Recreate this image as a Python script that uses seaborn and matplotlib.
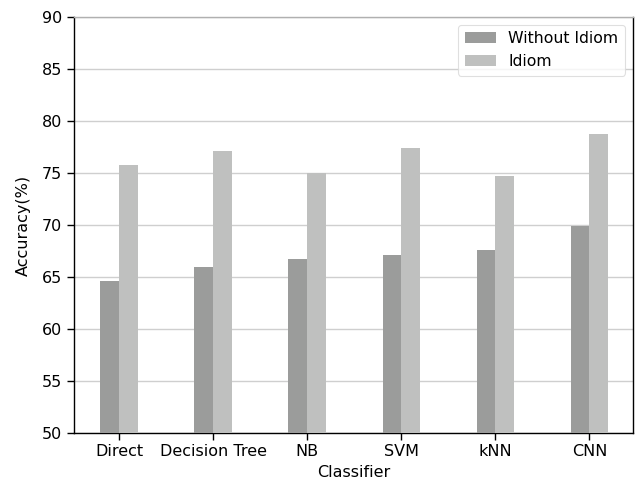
import matplotlib
matplotlib.use("Agg")
import matplotlib.pyplot as plt
import seaborn as sns
import pandas as pd

classifiers = ["Direct", "Decision Tree", "NB", "SVM", "kNN", "CNN"]
without_idiom = [64.6, 66.0, 66.7, 67.1, 67.6, 69.9]
idiom = [75.8, 77.1, 75.0, 77.4, 74.7, 78.8]
series_names = ["Without Idiom", "Idiom"]
y_ticks = [50, 55, 60, 65, 70, 75, 80, 85, 90]

df = pd.DataFrame({
    "Classifier": classifiers * 2,
    "Accuracy": without_idiom + idiom,
    "Series": [series_names[0]] * len(classifiers) + [series_names[1]] * len(classifiers),
})

sns.set_style("white")
plt.rcParams["font.family"] = ["DejaVu Sans"]
plt.rcParams["text.color"] = "black"
plt.rcParams["axes.labelcolor"] = "black"
plt.rcParams["xtick.color"] = "black"
plt.rcParams["ytick.color"] = "black"

fig = plt.figure(figsize=(6.4, 4.82), dpi=100)
ax = fig.add_axes([0.1156, 0.1023, 0.9886 - 0.1156, 0.9641 - 0.1023])

sns.barplot(data=df, x="Classifier", y="Accuracy", hue="Series",
            palette=["#9b9c9b", "#bfc0bf"], width=0.4, gap=0,
            edgecolor="none", linewidth=0, ax=ax, zorder=3)

ax.set_ylim(50, 90)
ax.set_xlim(-0.48, 5.46)
ax.set_yticks(y_ticks)
ax.yaxis.grid(True, color="#cfcfcf", linewidth=1.0, zorder=0)
ax.xaxis.grid(False)
ax.set_axisbelow(True)

for side in ["left", "bottom", "right"]:
    ax.spines[side].set_color("black")
    ax.spines[side].set_linewidth(1.0)
    ax.spines[side].set_visible(True)
ax.spines["top"].set_color("#b0b0b0")
ax.spines["top"].set_linewidth(1.0)

ax.tick_params(axis="both", which="major", direction="out", length=5, width=1,
               color="black", labelcolor="black", labelsize=11.5, left=True, bottom=True)
ax.set_xlabel("Classifier", fontsize=11.5, color="black")
ax.set_ylabel("Accuracy(%)", fontsize=11.5, color="black", labelpad=8)

leg = ax.legend(loc="upper right", fontsize=11.3, frameon=True, title=None)
leg.get_frame().set_edgecolor("#d8d8d8")
leg.get_frame().set_linewidth(0.8)
for t in leg.get_texts():
    t.set_color("black")

fig.savefig("out.png", dpi=100)
